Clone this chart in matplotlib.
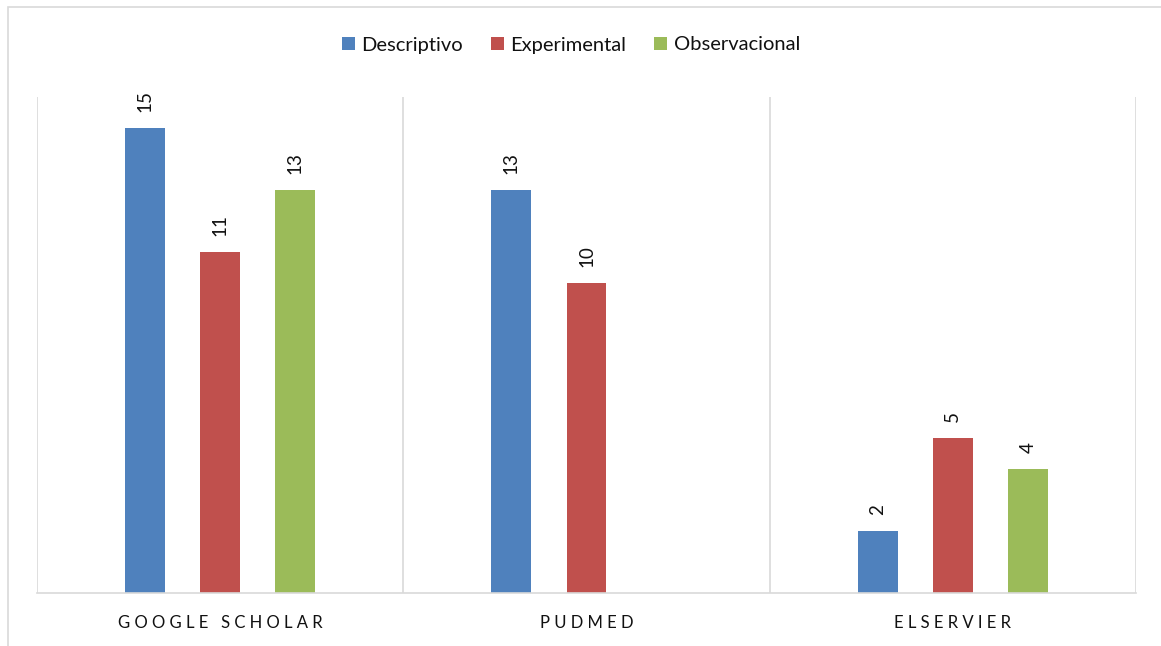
import matplotlib.pyplot as plt
import numpy as np

categorias = ['GOOGLE SCHOLAR', 'PUDMED', 'ELSERVIER']
series = ['Descriptivo', 'Experimental', 'Observacional']
descriptivo = [15, 13, 2]
experimental = [11, 10, 5]
observacional = [13, np.nan, 4]
colores = ['#4F81BD', '#C0504D', '#9BBB59']

plt.rcParams['font.family'] = ['Lato', 'DejaVu Sans']

fig = plt.figure(figsize=(11.61, 6.46), dpi=100, facecolor='w')
ax = fig.add_axes([37/1161, 1 - 593/646, (1136 - 37)/1161, (593 - 97)/646])

x = np.arange(len(categorias))
ancho = 0.109
desp = 0.205
for i, (nombre, valores) in enumerate(zip(series, [descriptivo, experimental, observacional])):
    pos = x + (i - 1) * desp
    ax.bar(pos, np.nan_to_num(valores), ancho, color=colores[i], label=nombre)
    for p, v in zip(pos, valores):
        if not np.isnan(v):
            ax.annotate(str(int(v)), (p, v), xytext=(0, 11.5), textcoords='offset points',
                        rotation=90, ha='center', va='bottom', fontsize=13.5, color='#111111')

ax.set_xlim(-0.5, 2.5)
ax.set_ylim(0, 16)
for b in [-0.5, 0.5, 1.5, 2.5]:
    ax.axvline(b, color='#d9d9d9', lw=1.2, zorder=0)
for s in ['top', 'left', 'right']:
    ax.spines[s].set_visible(False)
ax.spines['bottom'].set_color('#d9d9d9')
ax.spines['bottom'].set_linewidth(1.2)
ax.set_yticks([])
ax.set_xticks(x)
ax.set_xticklabels([' '.join(c) for c in categorias], fontsize=12, color='#111111')
ax.tick_params(axis='x', length=0, pad=16)

ax.legend(loc='center', bbox_to_anchor=(571/1161, 1 - 45/646), bbox_transform=fig.transFigure,
          ncol=3, frameon=False, fontsize=14.5, handlelength=0.65, handleheight=0.65,
          handletextpad=0.3, columnspacing=1.4, labelcolor='#111111')

# marco exterior
fig.patches.append(plt.Rectangle((8/1161, -0.1), 1.2, 1 - 7/646 + 0.1, transform=fig.transFigure,
                                 fill=False, edgecolor='#d9d9d9', lw=1.2))

plt.savefig('out.png', dpi=100)
